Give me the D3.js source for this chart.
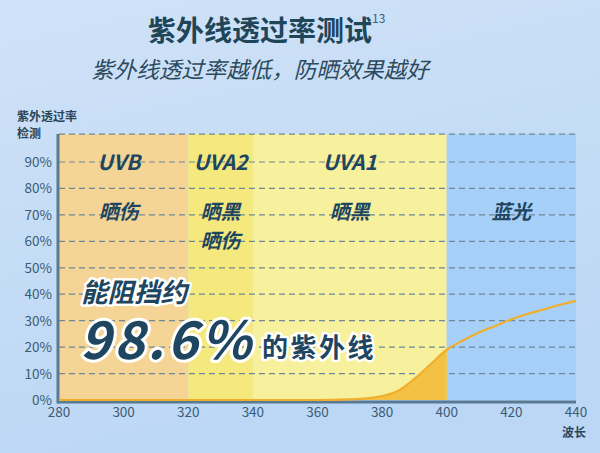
<!DOCTYPE html>
<html>
<head>
<meta charset="utf-8">
<script src="https://cdn.jsdelivr.net/npm/d3@7"></script>
<style>
  html, body { margin: 0; padding: 0; }
  body { width: 600px; height: 453px; overflow: hidden; }
  svg text { font-family: "Noto Sans CJK SC", "Noto Sans", sans-serif; }
</style>
</head>
<body>
<svg id="viz"></svg>
<script>
// data
const wavelengths = [280, 290, 300, 310, 320, 330, 340, 350, 360, 370, 375, 380, 385, 390, 395, 400, 405, 410, 415, 420, 425, 430, 435, 440];
const transmission = [0, 0, 0, 0, 0, 0, 0, 0, 0, 0.2, 0.6, 1.5, 3.5, 8, 13.5, 19, 22.5, 25.5, 28, 30.5, 32.5, 34.2, 36, 37.5];
const xTicks = [280, 300, 320, 340, 360, 380, 400, 420, 440];
const yTicks = [0, 10, 20, 30, 40, 50, 60, 70, 80, 90];
const bandNames = ["UVB", "UVA2", "UVA1", "蓝光"];
const bandStart = [280, 320, 340, 400];
const bandEnd = [320, 340, 400, 440];
const bandEffect = [["晒伤"], ["晒黑", "晒伤"], ["晒黑"], []];
const blockedShare = "98.6%";

const width = 600, height = 453;
const svg = d3.select("#viz").attr("width", width).attr("height", height);

// background
const defs = svg.append("defs");
const bg = defs.append("linearGradient").attr("id", "bg")
  .attr("x1", 0).attr("y1", 0).attr("x2", 0.3).attr("y2", 1);
bg.append("stop").attr("offset", "0%").attr("stop-color", "#cfe2f7");
bg.append("stop").attr("offset", "100%").attr("stop-color", "#bcd7f5");
svg.append("rect").attr("width", width).attr("height", height).attr("fill", "url(#bg)");

// scales
const x = d3.scaleLinear().domain([280, 440]).range([59, 576]);
const y = d3.scaleLinear().domain([0, 90]).range([400, 162]);
const yTop = y(100) - 1.5;

// bands
const bandColors = ["#f5d596", "#f5e97d", "#f7f09c", "#a7d0f8"];
svg.append("g").selectAll("rect")
  .data(bandNames)
  .join("rect")
  .attr("x", (d, i) => x(bandStart[i]))
  .attr("width", (d, i) => x(bandEnd[i]) - x(bandStart[i]))
  .attr("y", yTop)
  .attr("height", y(0) - yTop)
  .attr("fill", (d, i) => bandColors[i]);

// grid
svg.append("g").selectAll("line")
  .data(yTicks.slice(1).concat([100]))
  .join("line")
  .attr("x1", x(280)).attr("x2", x(440))
  .attr("y1", d => d === 100 ? yTop : y(d)).attr("y2", d => d === 100 ? yTop : y(d))
  .attr("stroke", "#6e8898").attr("stroke-width", 1.2)
  .attr("stroke-dasharray", "6,4");

// area under curve inside the UV range
const pts = wavelengths.map((w, i) => [w, transmission[i]]);
const area = d3.area().x(d => x(d[0])).y0(y(0)).y1(d => y(d[1])).curve(d3.curveMonotoneX);
svg.append("path")
  .attr("d", area(pts.filter(d => d[0] >= 360 && d[0] <= 400)))
  .attr("fill", "#f3c244");

// axis lines
svg.append("line")
  .attr("x1", x(280) - 1).attr("x2", x(440))
  .attr("y1", y(0) + 2).attr("y2", y(0) + 2)
  .attr("stroke", "#587a92").attr("stroke-width", 3);
svg.append("line")
  .attr("x1", x(280) - 1).attr("x2", x(280) - 1)
  .attr("y1", yTop).attr("y2", y(0) + 3.5)
  .attr("stroke", "#587a92").attr("stroke-width", 3);

// curve
const line = d3.line().x(d => x(d[0])).y(d => y(d[1])).curve(d3.curveMonotoneX);
svg.append("path")
  .attr("d", line(pts))
  .attr("fill", "none")
  .attr("stroke", "#f0ae2c")
  .attr("stroke-width", 2.2);

// tick labels
svg.append("g").selectAll("text")
  .data(yTicks)
  .join("text")
  .attr("x", 52).attr("y", d => y(d) + 5)
  .attr("text-anchor", "end")
  .attr("font-size", 13.5).attr("fill", "#3c5c74")
  .text(d => d + "%");
svg.append("g").selectAll("text")
  .data(xTicks)
  .join("text")
  .attr("x", d => x(d)).attr("y", 417)
  .attr("text-anchor", "middle")
  .attr("font-size", 13.5).attr("fill", "#3c5c74")
  .text(d => d);

// axis titles
svg.append("text").attr("x", 17).attr("y", 121).attr("font-size", 12).attr("font-weight", 700)
  .attr("fill", "#2a4658").text("紫外透过率");
svg.append("text").attr("x", 17).attr("y", 138).attr("font-size", 12).attr("font-weight", 700)
  .attr("fill", "#2a4658").text("检测");
svg.append("text").attr("x", 574).attr("y", 437).attr("text-anchor", "middle")
  .attr("font-size", 12).attr("font-weight", 700).attr("fill", "#2a4658").text("波长");

// band labels
const labelX = [298.5, 330, 370, 420];
const lbl = svg.append("g").attr("fill", "#1e4660").attr("font-weight", 700).attr("font-style", "italic");
lbl.selectAll("text.name")
  .data(bandNames.slice(0, 3))
  .join("text").attr("class", "name")
  .attr("x", (d, i) => x(labelX[i])).attr("y", 170)
  .attr("text-anchor", "middle")
  .attr("font-family", "'Noto Sans', sans-serif")
  .attr("font-size", 21)
  .text(d => d);
lbl.append("text")
  .attr("x", x(labelX[3])).attr("y", 219)
  .attr("text-anchor", "middle").attr("font-size", 20)
  .text(bandNames[3]);
bandEffect.forEach((eff, i) => {
  lbl.selectAll("text.eff" + i)
    .data(eff)
    .join("text").attr("class", "eff" + i)
    .attr("x", x(labelX[i])).attr("y", (d, j) => 219 + j * 29)
    .attr("text-anchor", "middle").attr("font-size", 20)
    .text(d => d);
});

// callout
const call = svg.append("g")
  .attr("fill", "#1e4660").attr("stroke", "#ffffff")
  .attr("stroke-linejoin", "round").style("paint-order", "stroke")
  .attr("font-weight", 700);
call.append("text").attr("x", 81).attr("y", 302).attr("font-size", 26.5)
  .attr("font-style", "italic")
  .attr("stroke-width", 5).text("能阻挡约");
call.append("text").attr("x", 80).attr("y", 359).attr("font-size", 52)
  .attr("font-family", "'DejaVu Sans', sans-serif")
  .attr("font-style", "italic").attr("letter-spacing", 3)
  .attr("stroke-width", 6).text(blockedShare);
call.append("text").attr("x", 262).attr("y", 357).attr("font-size", 26)
  .attr("letter-spacing", 2.5)
  .attr("stroke-width", 5).text("的紫外线");

// titles
svg.append("text").attr("x", 260).attr("y", 41).attr("text-anchor", "middle")
  .attr("font-size", 28).attr("font-weight", 700).attr("fill", "#1f4559")
  .text("紫外线透过率测试");
svg.append("text").attr("x", 372).attr("y", 23)
  .attr("font-size", 12).attr("fill", "#3c5c74").text("13");
svg.append("text").attr("x", 260).attr("y", 78).attr("text-anchor", "middle")
  .attr("font-size", 22.5).attr("font-style", "italic").attr("fill", "#2b4a5e")
  .text("紫外线透过率越低，防晒效果越好");
</script>
</body>
</html>
